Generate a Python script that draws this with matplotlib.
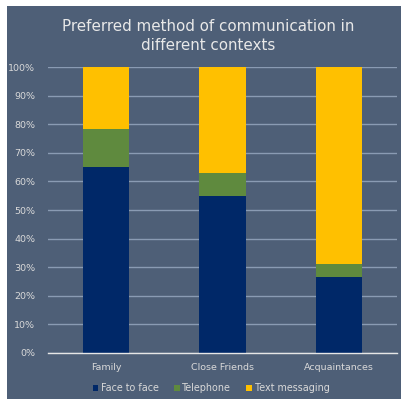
import matplotlib
matplotlib.use("Agg")
import matplotlib.pyplot as plt
from matplotlib.patches import Rectangle
from matplotlib.ticker import PercentFormatter
import numpy as np

categories = ["Family", "Close Friends", "Acquaintances"]
face_to_face = [65.0, 55.0, 26.5]
telephone = [13.5, 8.0, 4.5]
text_messaging = [21.5, 37.0, 69.0]
yticks = [0, 10, 20, 30, 40, 50, 60, 70, 80, 90, 100]

bg = "#4e5f77"
txt = "#d9d9d9"
colors = ["#002868", "#5f8a3e", "#ffc000"]

plt.rcParams["font.family"] = ["DejaVu Sans"]

fig = plt.figure(figsize=(4.02, 3.99), dpi=100, facecolor=bg)
# thin white margin along the top and left edges
fig.patches.append(Rectangle((0, 1 - 6 / 399), 1, 6 / 399, transform=fig.transFigure,
                             facecolor="white", edgecolor="none"))
fig.patches.append(Rectangle((0, 0), 7 / 402, 1, transform=fig.transFigure,
                             facecolor="white", edgecolor="none"))

ax = fig.add_axes([0.1187, 0.1153, 0.8697, 0.7167])
ax.set_facecolor(bg)

x = np.arange(len(categories))
bottom = np.zeros(len(categories))
labels = ["Face to face", "Telephone", "Text messaging"]
for vals, col, lab in zip([face_to_face, telephone, text_messaging], colors, labels):
    ax.bar(x, vals, width=0.4, bottom=bottom, color=col, label=lab, zorder=3)
    bottom += np.array(vals)

ax.set_xlim(-0.5, len(categories) - 0.5)
ax.set_ylim(0, 100)
ax.set_yticks(yticks)
ax.yaxis.set_major_formatter(PercentFormatter(decimals=0))
ax.set_xticks(x)
ax.set_xticklabels(categories)
ax.grid(axis="y", color="#8a9bb3", linewidth=1.0, zorder=1)
ax.tick_params(length=0, colors=txt, labelsize=6.8)
ax.tick_params(axis="y", pad=9)
ax.tick_params(axis="x", pad=7)
for s in ["top", "right", "left"]:
    ax.spines[s].set_visible(False)
ax.spines["bottom"].set_color("#e6e6e6")
ax.spines["bottom"].set_linewidth(1.0)
ax.spines["bottom"].set_zorder(4)

fig.text(0.518, 1 - 36 / 399, "Preferred method of communication in\ndifferent contexts",
         ha="center", va="center", color="#e8e8e8", fontsize=10.9, linespacing=1.4)

fig.legend(loc="center", bbox_to_anchor=(0.525, 1 - 388 / 399), ncol=3, frameon=False,
           fontsize=6.9, labelcolor=txt, handlelength=0.6, handleheight=0.6,
           handletextpad=0.25, columnspacing=1.6)

fig.savefig("out.png", dpi=100, facecolor=bg)
